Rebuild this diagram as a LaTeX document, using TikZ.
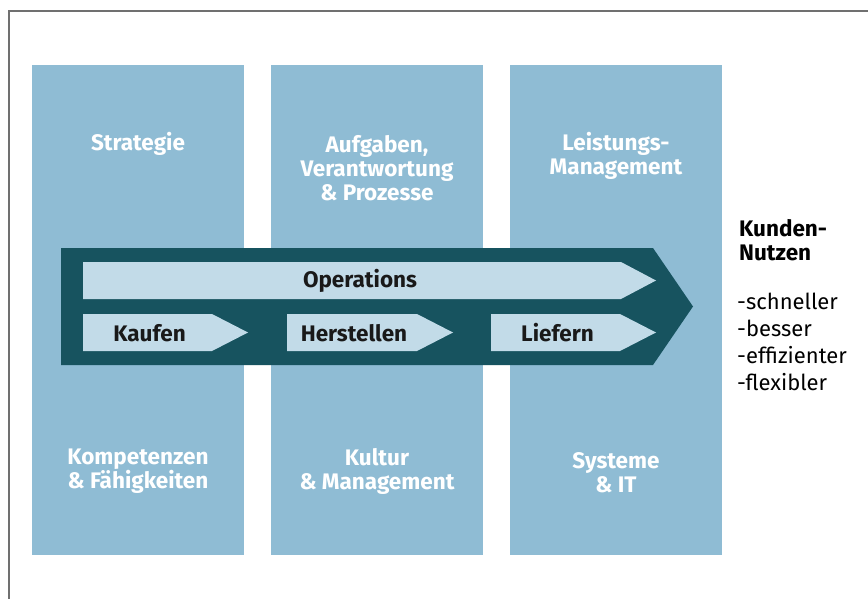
\documentclass[tikz,border=0pt]{standalone}
\usepackage{fontspec}
\setmainfont{Fira Sans}
\definecolor{colblue}{HTML}{8FBCD4}
\definecolor{darkteal}{HTML}{17535F}
\definecolor{paleblue}{HTML}{C2DBE8}
\definecolor{framegray}{HTML}{707070}
\tikzset{
  pillar/.style={fill=colblue, minimum width=212pt, minimum height=490pt, inner sep=0pt},
  pillartext/.style={text=white, font=\bfseries\fontsize{22.5}{24}\selectfont, align=center},
  flowtext/.style={text=black!90, font=\bfseries\fontsize{22.5}{24}\selectfont},
}
\begin{document}
\begin{tikzpicture}[x=1pt,y=-1pt]
    \useasboundingbox (0,0) rectangle (868,599);
    \fill[white] (0,0) rectangle (868,599);
    \draw[framegray, line width=1.5pt] (868,11) -- (9,11) -- (9,599);

    % three pillars
    \node[pillar] (p1) at (138,310) {};
    \node[pillar] (p2) at (377,310) {};
    \node[pillar] (p3) at (616,310) {};

    \node[pillartext] (strat) at (138,144) {Strategie};
    \node[pillartext] (aufg) at (377,168) {Aufgaben,\\Verantwortung\\\& Prozesse};
    \node[pillartext] (leist) at (616,156) {Leistungs-\\Management};
    \node[pillartext] (komp) at (138,471) {Kompetenzen\\\& Fähigkeiten};
    \node[pillartext] (kult) at (377,471) {Kultur\\\& Management};
    \node[pillartext] (syst) at (616,473) {Systeme\\\& IT};

    % big process arrow
    \fill[darkteal] (61,248) -- (653,248) -- (693,306.5) -- (653,365) -- (61,365) -- cycle;
    \fill[paleblue] (83,262) -- (621,262) -- (656,280.5) -- (621,299) -- (83,299) -- cycle;
    \node[flowtext] (ops) at (360,281) {Operations};

    \foreach \l/\r/\name/\lbl in {83/212/kauf/Kaufen, 287/417/herst/Herstellen, 491/620/lief/Liefern}{
        \fill[paleblue] (\l,314) -- (\r,314) -- (\r+36,332.5) -- (\r,351) -- (\l,351) -- cycle;
        \node[flowtext] (\name) at ({(\l+\r)/2+2},333) {\lbl};
    }

    % customer benefit
    \node[anchor=north west, align=left, inner sep=0pt, font=\bfseries\fontsize{22.5}{24}\selectfont] (kunde) at (739,219) {Kunden-\\Nutzen};
    \node[anchor=north west, align=left, inner sep=0pt, font=\fontsize{22}{27}\selectfont] (vorteil) at (737,293) {-schneller\\-besser\\-effizienter\\-flexibler};
\end{tikzpicture}
\end{document}
